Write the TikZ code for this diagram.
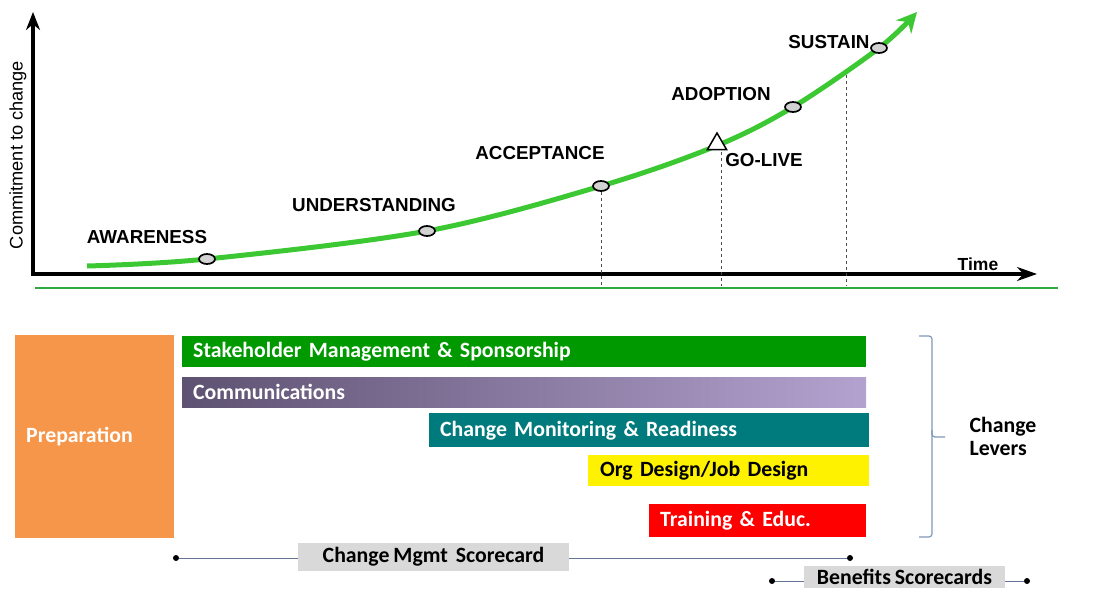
\documentclass[tikz,border=0pt]{standalone}
\usepackage{fontspec}
\setmainfont{Liberation Sans}
\newfontfamily\calib[WordSpace=0.8]{Carlito}
\usetikzlibrary{arrows.meta,shapes.geometric}

\definecolor{curvegreen}{RGB}{60,200,50}
\definecolor{rulegreen}{RGB}{46,170,64}
\definecolor{prepor}{RGB}{246,150,74}
\definecolor{stakegreen}{RGB}{0,154,0}
\definecolor{commdark}{RGB}{94,82,114}
\definecolor{commlight}{RGB}{179,162,207}
\definecolor{monteal}{RGB}{0,123,125}
\definecolor{scoregray}{RGB}{217,217,217}
\definecolor{scoreline}{RGB}{100,116,150}
\definecolor{bracecol}{RGB}{128,151,184}

\begin{document}
\begin{tikzpicture}[x=1pt,y=-1pt,
  stage/.style={font=\fontsize{18.8}{20}\selectfont\bfseries},
  marker/.style={ellipse,draw=black,line width=1.7pt,fill=gray!35,minimum width=16pt,minimum height=10pt,inner sep=0pt},
  guide/.style={dash pattern=on 3pt off 3pt,black!70,line width=0.8pt},
  bar/.style={anchor=north west,inner ysep=0pt,text=white,font=\calib\fontsize{21.8}{22}\selectfont\bfseries,align=left},
  card/.style={fill=scoregray,inner sep=0pt,minimum height=28pt,font=\calib\fontsize{21.8}{22}\selectfont\bfseries},
  dot/.style={circle,fill=black,inner sep=0pt,minimum size=6pt}]

\useasboundingbox (0,0) rectangle (1095,589);

% axes
\coordinate (o) at (33,274);
\coordinate (ytop) at (33,12);
\coordinate (xend) at (1037,274);
\draw[line width=4pt,-{Stealth[length=18pt,width=14pt]}] (33,276) -- (ytop);
\draw[line width=4pt,-{Stealth[length=20pt,width=14pt]}] (31,274) -- (xend);
\draw[rulegreen,line width=2.5pt] (35,288) -- (1058,288);

\node[rotate=90,font=\fontsize{18.2}{19}\selectfont] (ylab) at (18,155) {Commitment to change};
\node[font=\fontsize{17.5}{18}\selectfont\bfseries] (time) at (978,264) {Time};

% commitment curve
\coordinate (c0) at (87,266);
\coordinate (p1) at (207,259);
\coordinate (p2) at (427,231);
\coordinate (p3) at (601,186);
\coordinate (gl) at (716,146);
\coordinate (p4) at (793,107);
\coordinate (p5) at (879,48);
\coordinate (c1) at (917,12);

\coordinate (d3) at (601,286);
\coordinate (dgl) at (721,286);
\coordinate (s) at (846,75);
\coordinate (ds) at (846,286);
\draw[guide] (p3) -- (d3);
\draw[guide] (721,152) -- (dgl);
\draw[guide] (s) -- (ds);

\draw[curvegreen,line width=5pt,-{Stealth[length=20pt,width=20pt]}]
  plot[smooth,tension=0.55] coordinates {(c0) (p1) (p2) (p3) (gl) (p4) (p5) (c1)};

\node[marker] (m1) at (p1) {};
\node[marker] (m2) at (p2) {};
\node[marker] (m3) at (p3) {};
\node[marker] (m4) at (p4) {};
\node[marker] (m5) at (p5) {};
\node[regular polygon,regular polygon sides=3,draw=black,line width=1.5pt,fill=white,minimum size=22pt,inner sep=0pt] (tri) at (717,144) {};

\node[stage] (aw) at (147,237) {AWARENESS};
\node[stage] (un) at (374,205) {UNDERSTANDING};
\node[stage] (ac) at (540,153) {ACCEPTANCE};
\node[stage] (ad) at (721,94) {ADOPTION};
\node[stage] (go) at (764,160) {GO-LIVE};
\node[stage] (su) at (829,42) {SUSTAIN};

% change levers
\node[bar,fill=prepor,minimum height=203pt,text width=137pt,inner xsep=11pt] (prep) at (15,335) {Preparation};
\node[bar,fill=stakegreen,minimum height=31pt,text width=662pt,inner xsep=11pt] (stake) at (182,336) {Stakeholder Management \& Sponsorship};
\node[bar,left color=commdark,right color=commlight,minimum height=30pt,text width=662pt,inner xsep=11pt] (comm) at (182,377) {Communications};
\node[bar,fill=monteal,minimum height=34pt,text width=418pt,inner xsep=11pt] (mon) at (429,413) {Change Monitoring \& Readiness};
\node[bar,fill=yellow,text=black,minimum height=31pt,text width=257pt,inner xsep=12pt] (org) at (588,455) {Org Design/Job Design};
\node[bar,fill=red,minimum height=33pt,text width=195pt,inner xsep=11pt] (train) at (649,504) {Training \& Educ.};

% bracket round the levers
\coordinate (bt) at (919,336);
\coordinate (bm) at (945,437);
\coordinate (bb) at (919,537);
\draw[bracecol,line width=1.2pt,rounded corners=3pt] (bt) -- (932,336) -- (932,437) -- (bm);
\draw[bracecol,line width=1.2pt,rounded corners=3pt] (932,430) -- (932,537) -- (bb);
\node[font=\calib\fontsize{21.8}{23}\selectfont\bfseries,align=left,anchor=west] (lev) at (966,436) {Change\\Levers};

% scorecards
\node[dot] (cm1) at (176,558) {};
\node[dot] (cm2) at (850,558) {};
\draw[scoreline,line width=1pt] (cm1) -- (cm2);
\node[card,minimum width=271pt] (cms) at (433.5,557) {Change Mgmt\ \ Scorecard};

\node[dot] (bs1) at (772,581) {};
\node[dot] (bs2) at (1027,581) {};
\draw[scoreline,line width=1pt] (bs1) -- (bs2);
\node[card,minimum width=201pt,minimum height=22pt] (bs) at (904.5,577) {Benefits Scorecards};

\end{tikzpicture}
\end{document}
